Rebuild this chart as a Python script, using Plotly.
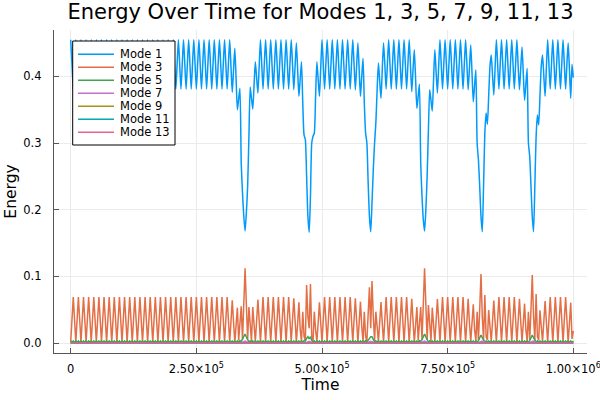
import numpy as np
import plotly.graph_objects as go

# ---------------- data ----------------
N_SAMPLES = 393
time_grid = np.linspace(0, 1_000_000, N_SAMPLES)

mode1 = [
    # 0 - 123
    0.455, 0.418, 0.381, 0.418, 0.455, 0.418, 0.381, 0.418, 0.455, 0.418, 0.381, 0.418, 0.455, 0.418, 0.381, 0.418,
    0.455, 0.418, 0.381, 0.418, 0.455, 0.418, 0.381, 0.418, 0.455, 0.418, 0.381, 0.418, 0.455, 0.418, 0.381, 0.418,
    0.455, 0.418, 0.381, 0.418, 0.455, 0.418, 0.381, 0.418, 0.455, 0.418, 0.381, 0.418, 0.455, 0.418, 0.381, 0.418,
    0.455, 0.418, 0.381, 0.418, 0.455, 0.418, 0.381, 0.418, 0.455, 0.418, 0.381, 0.418, 0.455, 0.418, 0.381, 0.418,
    0.455, 0.418, 0.381, 0.418, 0.455, 0.418, 0.381, 0.418, 0.455, 0.418, 0.381, 0.418, 0.455, 0.418, 0.381, 0.418,
    0.455, 0.418, 0.381, 0.418, 0.455, 0.418, 0.381, 0.418, 0.455, 0.418, 0.381, 0.418, 0.455, 0.418, 0.381, 0.418,
    0.455, 0.418, 0.381, 0.418, 0.455, 0.418, 0.381, 0.418, 0.455, 0.418, 0.381, 0.418, 0.455, 0.418, 0.381, 0.418,
    0.455, 0.418, 0.381, 0.418, 0.455, 0.418, 0.381, 0.418, 0.455, 0.418, 0.381, 0.418,
    # 124 - 148 (first dip)
    0.455, 0.415, 0.376, 0.41, 0.442, 0.396, 0.350, 0.366, 0.382, 0.27, 0.225, 0.19, 0.168,
    0.195, 0.235, 0.31, 0.384, 0.367, 0.351, 0.386, 0.422, 0.398, 0.375, 0.415, 0.455,
    # 149 - 171
    0.418, 0.381, 0.418,
    0.455, 0.418, 0.381, 0.418, 0.455, 0.418, 0.381, 0.418, 0.455, 0.418, 0.381, 0.418, 0.455, 0.418, 0.381, 0.418,
    0.455, 0.418, 0.381, 0.418,
    # 172 - 196 (second dip)
    0.455, 0.418, 0.38, 0.415, 0.45, 0.41, 0.37, 0.396, 0.422, 0.36, 0.312, 0.305, 0.25,
    0.19, 0.166, 0.22, 0.30, 0.31, 0.315, 0.37, 0.422, 0.396, 0.37, 0.412, 0.455,
    # 197 - 219
    0.418, 0.381, 0.418,
    0.455, 0.418, 0.381, 0.418, 0.455, 0.418, 0.381, 0.418, 0.455, 0.418, 0.381, 0.418, 0.455, 0.418, 0.381, 0.418,
    0.455, 0.418, 0.381, 0.418,
    # 220 - 244 (third dip)
    0.455, 0.418, 0.38, 0.415, 0.45, 0.41, 0.37, 0.4, 0.427, 0.36, 0.315, 0.30, 0.24,
    0.19, 0.167, 0.21, 0.26, 0.30, 0.33, 0.38, 0.42, 0.393, 0.367, 0.41, 0.45,
    # 245 - 263
    0.418, 0.381, 0.418,
    0.455, 0.418, 0.381, 0.418, 0.455, 0.418, 0.381, 0.418, 0.455, 0.418, 0.381, 0.418, 0.455, 0.418, 0.381, 0.418,
    # 264 - 288 (fourth dip)
    0.455, 0.416, 0.377, 0.41, 0.44, 0.396, 0.352, 0.37, 0.388, 0.27, 0.22, 0.185, 0.168,
    0.2, 0.25, 0.32, 0.38, 0.364, 0.348, 0.394, 0.44, 0.407, 0.375, 0.415, 0.455,
    # 289 - 307
    0.418, 0.381, 0.418,
    0.455, 0.418, 0.381, 0.418, 0.455, 0.418, 0.381, 0.418, 0.455, 0.418, 0.381, 0.418, 0.455, 0.418, 0.381, 0.418,
    # 308 - 332 (fifth dip)
    0.455, 0.418, 0.38, 0.413, 0.447, 0.405, 0.362, 0.386, 0.41, 0.30, 0.275, 0.235, 0.19,
    0.167, 0.235, 0.315, 0.345, 0.328, 0.37, 0.415, 0.432, 0.402, 0.372, 0.413, 0.455,
    # 333 - 347
    0.418, 0.381, 0.418,
    0.455, 0.418, 0.381, 0.418, 0.455, 0.418, 0.381, 0.418, 0.455, 0.418, 0.381, 0.418,
    # 348 - 372 (sixth dip)
    0.455, 0.415, 0.38, 0.412, 0.444, 0.404, 0.364, 0.388, 0.412, 0.30, 0.28, 0.235, 0.19,
    0.167, 0.235, 0.31, 0.342, 0.327, 0.37, 0.415, 0.432, 0.401, 0.37, 0.412, 0.455,
    # 373 - 387
    0.418, 0.381, 0.418,
    0.455, 0.418, 0.381, 0.418, 0.455, 0.418, 0.381, 0.418, 0.455, 0.418, 0.381, 0.418,
    # 388 - 392
    0.45, 0.41, 0.367, 0.418, 0.398,
]

mode3 = [
    # 0 - 123
    0.001, 0.035, 0.069, 0.035, 0.001, 0.035, 0.069, 0.035, 0.001, 0.035, 0.069, 0.035, 0.001, 0.035, 0.069, 0.035,
    0.001, 0.035, 0.069, 0.035, 0.001, 0.035, 0.069, 0.035, 0.001, 0.035, 0.069, 0.035, 0.001, 0.035, 0.069, 0.035,
    0.001, 0.035, 0.069, 0.035, 0.001, 0.035, 0.069, 0.035, 0.001, 0.035, 0.069, 0.035, 0.001, 0.035, 0.069, 0.035,
    0.001, 0.035, 0.069, 0.035, 0.001, 0.035, 0.069, 0.035, 0.001, 0.035, 0.069, 0.035, 0.001, 0.035, 0.069, 0.035,
    0.001, 0.035, 0.069, 0.035, 0.001, 0.035, 0.069, 0.035, 0.001, 0.035, 0.069, 0.035, 0.001, 0.035, 0.069, 0.035,
    0.001, 0.035, 0.069, 0.035, 0.001, 0.035, 0.069, 0.035, 0.001, 0.035, 0.069, 0.035, 0.001, 0.035, 0.069, 0.035,
    0.001, 0.035, 0.069, 0.035, 0.001, 0.035, 0.069, 0.035, 0.001, 0.035, 0.069, 0.035, 0.001, 0.035, 0.069, 0.035,
    0.001, 0.035, 0.069, 0.035, 0.001, 0.035, 0.069, 0.035, 0.001, 0.035, 0.069, 0.035,
    # 124 - 148
    0.001, 0.032, 0.064, 0.032, 0.001, 0.027, 0.053, 0.004, 0.028, 0.055, 0.005, 0.058, 0.112,
    0.058, 0.005, 0.054, 0.025, 0.003, 0.054, 0.027, 0.002, 0.033, 0.065, 0.034, 0.001,
    # 149 - 171
    0.035, 0.069, 0.035,
    0.001, 0.035, 0.069, 0.035, 0.001, 0.035, 0.069, 0.035, 0.001, 0.035, 0.069, 0.035, 0.001, 0.035, 0.069, 0.035,
    0.001, 0.035, 0.069, 0.035,
    # 172 - 196
    0.001, 0.034, 0.067, 0.034, 0.001, 0.03, 0.061, 0.02, 0.002, 0.047, 0.01, 0.003, 0.087,
    0.04, 0.022, 0.0885, 0.01, 0.003, 0.047, 0.02, 0.002, 0.03, 0.061, 0.03, 0.001,
    # 197 - 219
    0.035, 0.069, 0.035,
    0.001, 0.035, 0.069, 0.035, 0.001, 0.035, 0.069, 0.035, 0.001, 0.035, 0.069, 0.035, 0.001, 0.035, 0.069, 0.035,
    0.001, 0.035, 0.069, 0.035,
    # 220 - 244
    0.001, 0.034, 0.067, 0.033, 0.001, 0.031, 0.062, 0.025, 0.002, 0.047, 0.01, 0.003, 0.04,
    0.0835, 0.022, 0.093, 0.04, 0.003, 0.047, 0.02, 0.002, 0.031, 0.0615, 0.03, 0.001,
    # 245 - 263
    0.035, 0.069, 0.035,
    0.001, 0.035, 0.069, 0.035, 0.001, 0.035, 0.069, 0.035, 0.001, 0.035, 0.069, 0.035, 0.001, 0.035, 0.069, 0.035,
    # 264 - 288
    0.001, 0.033, 0.0665, 0.033, 0.001, 0.027, 0.054, 0.004, 0.028, 0.054, 0.005, 0.058, 0.112,
    0.058, 0.005, 0.057, 0.027, 0.003, 0.053, 0.027, 0.002, 0.033, 0.066, 0.034, 0.001,
    # 289 - 307
    0.035, 0.069, 0.035,
    0.001, 0.035, 0.069, 0.035, 0.001, 0.035, 0.069, 0.035, 0.001, 0.035, 0.069, 0.035, 0.001, 0.035, 0.069, 0.035,
    # 308 - 332
    0.001, 0.033, 0.0665, 0.03, 0.002, 0.03, 0.058, 0.02, 0.003, 0.047, 0.004, 0.05, 0.1035,
    0.04, 0.004, 0.072, 0.01, 0.004, 0.0495, 0.025, 0.002, 0.032, 0.0635, 0.032, 0.001,
    # 333 - 347
    0.035, 0.069, 0.035,
    0.001, 0.035, 0.069, 0.035, 0.001, 0.035, 0.069, 0.035, 0.001, 0.035, 0.069, 0.035,
    # 348 - 372
    0.001, 0.033, 0.0665, 0.032, 0.002, 0.03, 0.059, 0.02, 0.003, 0.047, 0.004, 0.05, 0.102,
    0.04, 0.004, 0.0735, 0.01, 0.004, 0.049, 0.025, 0.002, 0.032, 0.063, 0.032, 0.001,
    # 373 - 387
    0.035, 0.069, 0.035,
    0.001, 0.035, 0.069, 0.035, 0.001, 0.035, 0.069, 0.035, 0.001, 0.035, 0.069, 0.035,
    # 388 - 392
    0.001, 0.03, 0.0605, 0.006, 0.018,
]

mode5 = [
    # 0 - 123
    0.0032, 0.0008, 0.0032, 0.0008, 0.0032, 0.0008, 0.0032, 0.0008, 0.0032, 0.0008, 0.0032, 0.0008, 0.0032, 0.0008, 0.0032, 0.0008,
    0.0032, 0.0008, 0.0032, 0.0008, 0.0032, 0.0008, 0.0032, 0.0008, 0.0032, 0.0008, 0.0032, 0.0008, 0.0032, 0.0008, 0.0032, 0.0008,
    0.0032, 0.0008, 0.0032, 0.0008, 0.0032, 0.0008, 0.0032, 0.0008, 0.0032, 0.0008, 0.0032, 0.0008, 0.0032, 0.0008, 0.0032, 0.0008,
    0.0032, 0.0008, 0.0032, 0.0008, 0.0032, 0.0008, 0.0032, 0.0008, 0.0032, 0.0008, 0.0032, 0.0008, 0.0032, 0.0008, 0.0032, 0.0008,
    0.0032, 0.0008, 0.0032, 0.0008, 0.0032, 0.0008, 0.0032, 0.0008, 0.0032, 0.0008, 0.0032, 0.0008, 0.0032, 0.0008, 0.0032, 0.0008,
    0.0032, 0.0008, 0.0032, 0.0008, 0.0032, 0.0008, 0.0032, 0.0008, 0.0032, 0.0008, 0.0032, 0.0008, 0.0032, 0.0008, 0.0032, 0.0008,
    0.0032, 0.0008, 0.0032, 0.0008, 0.0032, 0.0008, 0.0032, 0.0008, 0.0032, 0.0008, 0.0032, 0.0008, 0.0032, 0.0008, 0.0032, 0.0008,
    0.0032, 0.0008, 0.0032, 0.0008, 0.0032, 0.0008, 0.0032, 0.0008, 0.0032, 0.0008, 0.0032, 0.0008,
    # 124 - 148
    0.0032, 0.0008, 0.0032, 0.0008, 0.0032, 0.0008, 0.0032, 0.001, 0.0035, 0.002, 0.006, 0.011, 0.0135,
    0.009, 0.004, 0.0015, 0.0032, 0.0008, 0.0032, 0.0008, 0.0032, 0.0008, 0.0032, 0.0008, 0.0032,
    # 149 - 171
    0.0008,
    0.0032, 0.0008, 0.0032, 0.0008, 0.0032, 0.0008, 0.0032, 0.0008, 0.0032, 0.0008, 0.0032, 0.0008, 0.0032, 0.0008, 0.0032, 0.0008,
    0.0032, 0.0008, 0.0032, 0.0008, 0.0032, 0.0008,
    # 172 - 196
    0.0032, 0.0008, 0.0032, 0.0008, 0.0032, 0.0008, 0.0032, 0.0008, 0.0032, 0.001, 0.0035, 0.003, 0.007,
    0.0095, 0.006, 0.0095, 0.004, 0.0012, 0.0032, 0.0008, 0.0032, 0.0008, 0.0032, 0.0008, 0.0032,
    # 197 - 219
    0.0008,
    0.0032, 0.0008, 0.0032, 0.0008, 0.0032, 0.0008, 0.0032, 0.0008, 0.0032, 0.0008, 0.0032, 0.0008, 0.0032, 0.0008, 0.0032, 0.0008,
    0.0032, 0.0008, 0.0032, 0.0008, 0.0032, 0.0008,
    # 220 - 244
    0.0032, 0.0008, 0.0032, 0.0008, 0.0032, 0.0008, 0.0032, 0.0008, 0.0032, 0.001, 0.0035, 0.002, 0.004,
    0.006, 0.0095, 0.0095, 0.004, 0.0012, 0.0032, 0.0008, 0.0032, 0.0008, 0.0032, 0.0008, 0.0032,
    # 245 - 263
    0.0008,
    0.0032, 0.0008, 0.0032, 0.0008, 0.0032, 0.0008, 0.0032, 0.0008, 0.0032, 0.0008, 0.0032, 0.0008, 0.0032, 0.0008, 0.0032, 0.0008,
    0.0032, 0.0008,
    # 264 - 288
    0.0032, 0.0008, 0.0032, 0.0008, 0.0032, 0.0008, 0.0032, 0.001, 0.0035, 0.002, 0.005, 0.01, 0.0135,
    0.009, 0.004, 0.0015, 0.0032, 0.0008, 0.0032, 0.0008, 0.0032, 0.0008, 0.0032, 0.0008, 0.0032,
    # 289 - 307
    0.0008,
    0.0032, 0.0008, 0.0032, 0.0008, 0.0032, 0.0008, 0.0032, 0.0008, 0.0032, 0.0008, 0.0032, 0.0008, 0.0032, 0.0008, 0.0032, 0.0008,
    0.0032, 0.0008,
    # 308 - 332
    0.0032, 0.0008, 0.0032, 0.0008, 0.0032, 0.0008, 0.0032, 0.0008, 0.0032, 0.001, 0.0035, 0.007, 0.012,
    0.008, 0.004, 0.0012, 0.0032, 0.0008, 0.0032, 0.0008, 0.0032, 0.0008, 0.0032, 0.0008, 0.0032,
    # 333 - 347
    0.0008,
    0.0032, 0.0008, 0.0032, 0.0008, 0.0032, 0.0008, 0.0032, 0.0008, 0.0032, 0.0008, 0.0032, 0.0008, 0.0032, 0.0008,
    # 348 - 372
    0.0032, 0.0008, 0.0032, 0.0008, 0.0032, 0.0008, 0.0032, 0.0008, 0.0032, 0.001, 0.0035, 0.007, 0.012,
    0.008, 0.004, 0.0012, 0.0032, 0.0008, 0.0032, 0.0008, 0.0032, 0.0008, 0.0032, 0.0008, 0.0032,
    # 373 - 387
    0.0008,
    0.0032, 0.0008, 0.0032, 0.0008, 0.0032, 0.0008, 0.0032, 0.0008, 0.0032, 0.0008, 0.0032, 0.0008, 0.0032, 0.0008,
    # 388 - 392
    0.0032, 0.0008, 0.0032, 0.0008, 0.0032,
]

# the higher modes stay near zero; they are read at a few times only
t_sparse = [0, 340000, 347000, 354000, 468000, 474500, 481000, 590000, 597000, 604000,
            697000, 704000, 711000, 811000, 818000, 825000, 913000, 920000, 927000, 1000000]
mode7 = [0.0005, 0.0005, 0.003, 0.0005, 0.0005, 0.0025, 0.0005, 0.0005, 0.0025, 0.0005,
         0.0005, 0.003, 0.0005, 0.0005, 0.0028, 0.0005, 0.0005, 0.0028, 0.0005, 0.0005]
mode9 = [0.0002, 0.0002, 0.0009, 0.0002, 0.0002, 0.0007, 0.0002, 0.0002, 0.0007, 0.0002,
         0.0002, 0.0009, 0.0002, 0.0002, 0.0008, 0.0002, 0.0002, 0.0008, 0.0002, 0.0002]
mode11 = [0.0001, 0.0001, 0.0004, 0.0001, 0.0001, 0.0003, 0.0001, 0.0001, 0.0003, 0.0001,
          0.0001, 0.0004, 0.0001, 0.0001, 0.0003, 0.0001, 0.0001, 0.0003, 0.0001, 0.0001]
mode13 = [0.0001, 0.0001, 0.0002, 0.0001, 0.0001, 0.0002, 0.0001, 0.0001, 0.0002, 0.0001,
          0.0001, 0.0002, 0.0001, 0.0001, 0.0002, 0.0001, 0.0001, 0.0002, 0.0001, 0.0001]

mode_names = ["Mode 1", "Mode 3", "Mode 5", "Mode 7", "Mode 9", "Mode 11", "Mode 13"]
mode_colors = ["#009AFA", "#E36F47", "#3EA44E", "#C371D2", "#AC8E18", "#00AAAE", "#ED5E93"]

x_tickvals = [0, 250000, 500000, 750000, 1000000]
x_ticktext = ["0", "2.50×10<sup>5</sup>", "5.00×10<sup>5</sup>", "7.50×10<sup>5</sup>", "1.00×10<sup>6</sup>"]
y_tickvals = [0.0, 0.1, 0.2, 0.3, 0.4]
y_ticktext = ["0.0", "0.1", "0.2", "0.3", "0.4"]

assert len(mode1) == N_SAMPLES, len(mode1)
assert len(mode3) == N_SAMPLES, len(mode3)
assert len(mode5) == N_SAMPLES, len(mode5)

# ---------------- figure ----------------
FONT = "DejaVu Sans"
W, H = 600, 400
ML, MR, MT, MB = 54, 13, 30, 47

fig = go.Figure()
series = [
    (time_grid, mode1), (time_grid, mode3), (time_grid, mode5),
    (t_sparse, mode7), (t_sparse, mode9), (t_sparse, mode11), (t_sparse, mode13),
]
for (xs, ys), name, color in zip(series, mode_names, mode_colors):
    line = dict(color=color, width=1.5)
    if name == "Mode 1":
        line.update(shape="spline", smoothing=0.6)
    fig.add_trace(go.Scatter(x=xs, y=ys, mode="lines", name=name, line=line,
                             showlegend=False, hoverinfo="skip"))

# legend drawn as a compact framed box (as in the reference)
plot_w = W - ML - MR
plot_h = H - MT - MB


def px_x(p):
    return (p - ML) / plot_w


def px_y(p):
    return (H - MB - p) / plot_h


shapes = [dict(type="rect", xref="paper", yref="paper",
               x0=px_x(72.7), x1=px_x(175), y0=px_y(145), y1=px_y(41),
               fillcolor="white", line=dict(color="black", width=1), layer="above")]
annotations = []
for i, (name, color) in enumerate(zip(mode_names, mode_colors)):
    yy = 54.3 + 13 * i
    shapes.append(dict(type="line", xref="paper", yref="paper",
                       x0=px_x(78), x1=px_x(114), y0=px_y(yy), y1=px_y(yy),
                       line=dict(color=color, width=1.5), layer="above"))
    annotations.append(dict(text=name, xref="paper", yref="paper",
                            x=px_x(119), y=px_y(yy), xanchor="left", yanchor="middle",
                            height=12, valign="middle", borderpad=0,
                            showarrow=False, font=dict(family=FONT, size=11.5, color="black")))

fig.update_layout(
    width=W, height=H,
    margin=dict(l=ML, r=MR, t=MT, b=MB, autoexpand=False),
    paper_bgcolor="white", plot_bgcolor="white",
    font=dict(family=FONT, size=11.5, color="black"),
    title=dict(text="Energy Over Time for Modes 1, 3, 5, 7, 9, 11, 13",
               x=0.5, xref="paper", xanchor="center",
               y=1 - 11.5 / H, yref="container", yanchor="middle",
               font=dict(family=FONT, size=21, color="black")),
    showlegend=False,
    shapes=shapes,
    annotations=annotations,
)

axis_common = dict(
    showline=True, linecolor="#555555", linewidth=1.2, mirror=False,
    ticks="inside", ticklen=5, tickcolor="#555555", tickwidth=1,
    showgrid=True, gridcolor="#ebebeb", gridwidth=1, zeroline=False,
    tickfont=dict(family=FONT, size=11.5, color="black"),
    ticklabeloverflow="allow", automargin=False,
)
fig.update_xaxes(range=[-33230, 1027260], tickmode="array",
                 tickvals=x_tickvals, ticktext=x_ticktext,
                 ticklabelstandoff=5,
                 title=dict(text="Time", font=dict(family=FONT, size=15.5, color="black"), standoff=2),
                 **axis_common)
fig.update_yaxes(range=[-0.0150, 0.4695], tickmode="array",
                 tickvals=y_tickvals, ticktext=y_ticktext,
                 ticklabelstandoff=9,
                 title=dict(text="Energy", font=dict(family=FONT, size=15.5, color="black"), standoff=2),
                 **axis_common)

fig.write_html("out.html",
               config={"displayModeBar": False},
               post_script="document.body.style.margin='0';document.body.style.padding='0';")
